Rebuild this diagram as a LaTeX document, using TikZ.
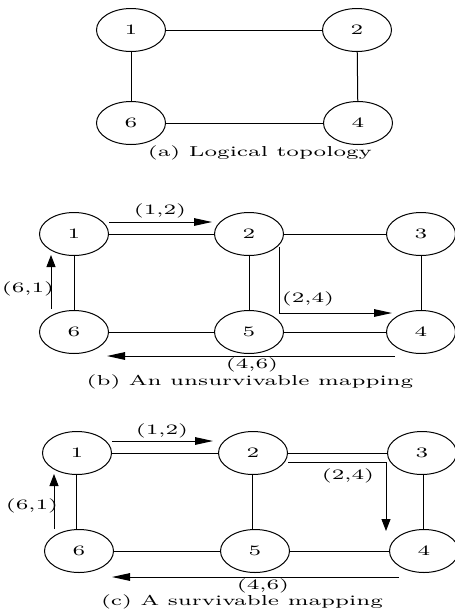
\documentclass[tikz,border=0pt]{standalone}
\usetikzlibrary{shapes.geometric,arrows.meta}
\newcommand{\T}[1]{\scalebox{1.54}[1]{#1}}
\begin{document}
\begin{tikzpicture}[x=0.5pt,y=-0.5pt,
  nd/.style={draw,ellipse,line width=0.5pt,minimum width=34.5pt,minimum height=21.5pt,inner sep=0pt,font=\fontsize{7.2}{8}\selectfont},
  ln/.style={line width=0.5pt},
  harrow/.style={line width=0.5pt,-{Triangle[length=9pt,width=3.8pt]}},
  varrow/.style={line width=0.5pt,-{Triangle[length=6pt,width=4.5pt]}},
  lab/.style={font=\fontsize{7.2}{8}\selectfont,inner sep=0pt}]
\useasboundingbox (0,0) rectangle (455,616);
% (a)
\node[nd] (a1) at (131,30) {\T{1}};
\node[nd] (a2) at (357,30) {\T{2}};
\node[nd] (a6) at (131,123) {\T{6}};
\node[nd] (a4) at (358,123) {\T{4}};
\draw[ln] (a1) -- (a2);
\draw[ln] (a1) -- (a6);
\draw[ln] (a2) -- (a4);
\draw[ln] (a6) -- (a4);
\node[lab] (capa) at (260,153) {\T{(a) Logical topology}};
% (b)
\node[nd] (b1) at (74,234) {\T{1}};
\node[nd] (b2) at (249,234) {\T{2}};
\node[nd] (b3) at (421,234) {\T{3}};
\node[nd] (b6) at (74,332) {\T{6}};
\node[nd] (b5) at (249,332) {\T{5}};
\node[nd] (b4) at (421,332) {\T{4}};
\draw[ln] (b1) -- (b2);
\draw[ln] (b2) -- (b3);
\draw[ln] (b1) -- (b6);
\draw[ln] (b2) -- (b5);
\draw[ln] (b3) -- (b4);
\draw[ln] (b6) -- (b5);
\draw[ln] (b5) -- (b4);
\coordinate (b12s) at (109,222);
\coordinate (b12e) at (212,222);
\draw[harrow] (b12s) -- (b12e);
\node[lab] (lb12) at (160,211) {\T{(1,2)}};
\coordinate (b61s) at (51,309);
\coordinate (b61e) at (51,255);
\draw[varrow] (b61s) -- (b61e);
\node[lab] (lb61) at (28,289) {\T{(6,1)}};
\coordinate (b24s) at (279,247);
\coordinate (b24m) at (279,313);
\coordinate (b24e) at (392,313);
\draw[harrow] (b24s) -- (b24m) -- (b24e);
\node[lab] (lb24) at (308,299) {\T{(2,4)}};
\coordinate (b46s) at (395,356);
\coordinate (b46e) at (107,356);
\draw[harrow] (b46s) -- (b46e);
\node[lab] (lb46) at (252,365) {\T{(4,6)}};
\node[lab] (capb) at (250,382) {\T{(b) An unsurvivable mapping}};
% (c)
\node[nd] (c1) at (77,453) {\T{1}};
\node[nd] (c2) at (253,453) {\T{2}};
\node[nd] (c3) at (422,453) {\T{3}};
\node[nd] (c6) at (79,551) {\T{6}};
\node[nd] (c5) at (255,551) {\T{5}};
\node[nd] (c4) at (424,551) {\T{4}};
\draw[ln] (c1) -- (c2);
\draw[ln] (c2) -- (c3);
\draw[ln] (c1.south -| 76,0) -- (c6.north -| 76,0);
\draw[ln] (c2.south -| 252,0) -- (c5.north -| 252,0);
\draw[ln] (c3.south -| 423,0) -- (c4.north -| 423,0);
\draw[ln] (c6) -- (c5);
\draw[ln] (c5) -- (c4);
\coordinate (c12s) at (112,441);
\coordinate (c12e) at (213,441);
\draw[harrow] (c12s) -- (c12e);
\node[lab] (lc12) at (162,431) {\T{(1,2)}};
\coordinate (c61s) at (54,529);
\coordinate (c61e) at (54,474);
\draw[varrow] (c61s) -- (c61e);
\node[lab] (lc61) at (32,506) {\T{(6,1)}};
\coordinate (c24s) at (288,462);
\coordinate (c24m) at (386,462);
\coordinate (c24e) at (386,531);
\draw[varrow] (c24s) -- (c24m) -- (c24e);
\node[lab] (lc24) at (348,476) {\T{(2,4)}};
\coordinate (c46s) at (399,577);
\coordinate (c46e) at (112,577);
\draw[harrow] (c46s) -- (c46e);
\node[lab] (lc46) at (263,586) {\T{(4,6)}};
\node[lab] (capc) at (242,602) {\T{(c) A survivable mapping}};
\end{tikzpicture}
\end{document}
